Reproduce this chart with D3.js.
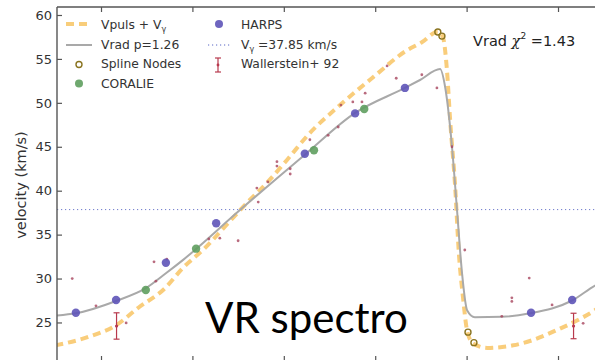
<!DOCTYPE html>
<html><head><meta charset="utf-8">
<script src="https://cdn.jsdelivr.net/npm/d3@7"></script>
<style>body{margin:0;background:#fff;} svg{display:block;font-family:"DejaVu Sans",sans-serif;}</style>
</head><body><svg id="c" width="595" height="360"></svg>
<script>
// ---- data (phase, velocity km/s) ----
const yTicks = [25, 30, 35, 40, 45, 50, 55, 60];
const xTicks = [0, 0.2, 0.4, 0.6, 0.8, 1.0];
const vGamma = 37.85;
const chi2 = 1.43;
const vradCurve = [[-0.096,25.8],[-0.055,26.05],[0.033,27.45],[0.098,28.9],[0.142,30.6],[0.179,32.1],[0.304,37.8],[0.446,44.1],[0.556,48.85],[0.665,51.7],[0.698,52.6],[0.742,53.85],[0.753,51.8],[0.768,45.0],[0.779,37.8],[0.790,30.6],[0.801,26.4],[0.818,25.6],[0.877,25.65],[0.939,26.05],[1.031,27.5],[1.081,29.2],[1.142,30.6],[1.179,32.1]];
const vpulsCurve = [[-0.1,22.4],[-0.028,23.35],[0.035,24.75],[0.081,26.65],[0.140,28.9],[0.179,31.2],[0.228,33.5],[0.271,35.9],[0.319,38.6],[0.363,40.9],[0.407,43.5],[0.454,46.4],[0.523,49.75],[0.595,52.9],[0.670,56.0],[0.702,56.9],[0.737,58.1],[0.748,57.5],[0.757,53.7],[0.764,48.0],[0.775,40.4],[0.783,32.9],[0.792,27.9],[0.801,24.1],[0.814,22.6],[0.845,22.1],[0.866,22.15],[0.902,22.4],[0.945,23.0],[0.998,24.15],[1.048,25.4],[1.081,26.4],[1.14,28.9],[1.179,31.2]];
const splineNodes = [[0.737,58.07],[0.746,57.6],[0.803,23.9],[0.816,22.7]];
const harps = [[-0.055,26.1],[0.033,27.55],[0.142,31.8],[0.252,36.3],[0.446,44.2],[0.556,48.8],[0.665,51.7],[0.941,26.1],[1.031,27.55]];
const coralie = [[0.098,28.7],[0.208,33.4],[0.466,44.6],[0.576,49.3]];
const otherPts = [[-0.063,30.0],[-0.011,26.9],[0.055,24.95],[0.116,31.9],[0.120,29.7],[0.144,32.2],[0.236,34.5],[0.260,34.6],[0.300,34.3],[0.341,40.3],[0.344,38.7],[0.365,41.0],[0.385,43.3],[0.385,42.8],[0.414,42.5],[0.414,41.9],[0.457,45.8],[0.497,46.3],[0.519,47.25],[0.525,49.75],[0.551,50.1],[0.571,50.1],[0.578,51.1],[0.626,54.2],[0.646,52.8],[0.702,53.2],[0.735,51.7],[0.768,45.0],[0.796,33.25],[0.877,25.7],[0.899,27.8],[0.899,27.4],[0.937,30.05],[0.987,27.0],[1.055,24.9]];
const wallerstein = [[0.034,24.6,1.5],[1.034,24.6,1.45]];
const legendCol1 = ["Vpuls + V", "Vrad p=1.26", "Spline Nodes", "CORALIE"];
const legendCol2 = ["HARPS", "V", "Wallerstein+ 92"];
const yLabel = "velocity (km/s)";
const bigLabel = "VR spectro";

// ---- colours ----
const cOrange = "#f7c15a", cGray = "#a9a9a9", cBlue = "#5e54b8", cGreen = "#5f9f5f",
      cRed = "#a8455e", cErr = "#b8394d", cNode = "#8a7420", cAxis = "#555", cText = "#333",
      cDot = "#5866c4";

const svg = d3.select("#c");
svg.append("rect").attr("width",595).attr("height",360).attr("fill","#fff");
const L = 57, T = 7, R = 640, B = 362;
const x = d3.scaleLinear().domain([-0.0963, 1.1794]).range([L, R]);
const y = d3.scaleLinear().domain([20.5, 60.91]).range([B, T]);

svg.append("clipPath").attr("id","clip").append("rect").attr("x",L).attr("y",T).attr("width",R-L).attr("height",B-T);
const g = svg.append("g").attr("clip-path","url(#clip)");

// V gamma dotted
g.append("line").attr("x1",L).attr("x2",R).attr("y1",y(vGamma)).attr("y2",y(vGamma))
  .attr("stroke",cDot).attr("stroke-width",1).attr("stroke-dasharray","1.2,2.8").attr("opacity",0.85);

const line = d3.line().x(d=>x(d[0])).y(d=>y(d[1])).curve(d3.curveMonotoneX);
g.append("path").attr("d",line(vpulsCurve)).attr("fill","none").attr("stroke",cOrange)
  .attr("stroke-width",4).attr("stroke-dasharray","8,5").attr("opacity",0.8);
g.append("path").attr("d",line(vradCurve)).attr("fill","none").attr("stroke",cGray).attr("stroke-width",2);

g.selectAll(".o").data(otherPts).join("circle").attr("cx",d=>x(d[0])).attr("cy",d=>y(d[1])).attr("r",1.4).attr("fill",cRed).attr("opacity",0.8);

// Wallerstein error bars
const wg = g.selectAll(".w").data(wallerstein).join("g").attr("stroke",cErr).attr("stroke-width",1.2);
wg.append("line").attr("x1",d=>x(d[0])).attr("x2",d=>x(d[0])).attr("y1",d=>y(d[1]+d[2])).attr("y2",d=>y(d[1]-d[2]));
wg.append("line").attr("x1",d=>x(d[0])-3).attr("x2",d=>x(d[0])+3).attr("y1",d=>y(d[1]+d[2])).attr("y2",d=>y(d[1]+d[2]));
wg.append("line").attr("x1",d=>x(d[0])-3).attr("x2",d=>x(d[0])+3).attr("y1",d=>y(d[1]-d[2])).attr("y2",d=>y(d[1]-d[2]));
g.selectAll(".wc").data(wallerstein).join("circle").attr("cx",d=>x(d[0])).attr("cy",d=>y(d[1])).attr("r",1.6).attr("fill",cErr);

g.selectAll(".h").data(harps).join("circle").attr("cx",d=>x(d[0])).attr("cy",d=>y(d[1])).attr("r",4.2).attr("fill",cBlue).attr("opacity",0.9);
g.selectAll(".c").data(coralie).join("circle").attr("cx",d=>x(d[0])).attr("cy",d=>y(d[1])).attr("r",4.2).attr("fill",cGreen).attr("opacity",0.9);
g.selectAll(".s").data(splineNodes).join("circle").attr("cx",d=>x(d[0])).attr("cy",d=>y(d[1])).attr("r",3).attr("fill","none").attr("stroke",cNode).attr("stroke-width",1.4);

// axes frame
svg.append("line").attr("x1",L).attr("x2",L).attr("y1",T).attr("y2",B).attr("stroke",cAxis).attr("stroke-width",1.4);
svg.append("line").attr("x1",L).attr("x2",R).attr("y1",T).attr("y2",T).attr("stroke",cAxis).attr("stroke-width",1.4);
svg.append("line").attr("x1",L).attr("x2",R).attr("y1",B).attr("y2",B).attr("stroke",cAxis).attr("stroke-width",1.4);

const yAx = svg.append("g").attr("transform",`translate(${L},0)`)
  .call(d3.axisLeft(y).tickValues(yTicks).tickSize(-5).tickPadding(5).tickFormat(d3.format("d")));
yAx.select(".domain").remove();
yAx.selectAll("line").attr("stroke",cAxis).attr("stroke-width",1.2);
yAx.selectAll("text").attr("fill",cText).attr("font-size",13).attr("font-family","DejaVu Sans");

const xTop = svg.append("g").attr("transform",`translate(0,${T})`).call(d3.axisTop(x).tickValues(xTicks).tickSize(-5).tickFormat(""));
xTop.select(".domain").remove(); xTop.selectAll("line").attr("stroke",cAxis).attr("stroke-width",1.2);
const xBot = svg.append("g").attr("transform",`translate(0,${B})`).call(d3.axisBottom(x).tickValues(xTicks).tickSize(-6).tickFormat(""));
xBot.select(".domain").remove(); xBot.selectAll("line").attr("stroke",cAxis).attr("stroke-width",1.2);

svg.append("text").attr("transform","translate(26,185) rotate(-90)").attr("text-anchor","middle")
  .attr("font-size",14.5).attr("fill",cText).text(yLabel);

// legend
const lg = svg.append("g").attr("font-size",12.3).attr("fill",cText);
const rows = [28.7, 48.5, 68.3, 88];
lg.append("line").attr("x1",66).attr("x2",92).attr("y1",24).attr("y2",24).attr("stroke",cOrange).attr("stroke-width",4).attr("stroke-dasharray","8,5").attr("opacity",0.8);
lg.append("line").attr("x1",66).attr("x2",92).attr("y1",45).attr("y2",45).attr("stroke",cGray).attr("stroke-width",2);
lg.append("circle").attr("cx",79).attr("cy",64.5).attr("r",3).attr("fill","none").attr("stroke",cNode).attr("stroke-width",1.4);
lg.append("circle").attr("cx",79).attr("cy",83.5).attr("r",4).attr("fill",cGreen).attr("opacity",0.9);
legendCol1.forEach((t,i)=>{
  const tx = lg.append("text").attr("x",101).attr("y",rows[i]).text(t);
  if(i===0) tx.append("tspan").attr("font-size",8).attr("dy",3).text("γ");
});
lg.append("circle").attr("cx",219).attr("cy",24).attr("r",4).attr("fill",cBlue).attr("opacity",0.9);
lg.append("line").attr("x1",208).attr("x2",230).attr("y1",45).attr("y2",45).attr("stroke",cDot).attr("stroke-width",1).attr("stroke-dasharray","1.2,2.8");
lg.append("line").attr("x1",218).attr("x2",218).attr("y1",58).attr("y2",72).attr("stroke",cErr).attr("stroke-width",1.2);
lg.append("line").attr("x1",215).attr("x2",221).attr("y1",58).attr("y2",58).attr("stroke",cErr).attr("stroke-width",1.2);
lg.append("line").attr("x1",215).attr("x2",221).attr("y1",72).attr("y2",72).attr("stroke",cErr).attr("stroke-width",1.2);
lg.append("circle").attr("cx",218).attr("cy",65).attr("r",1.4).attr("fill",cErr);
legendCol2.forEach((t,i)=>{
  const tx = lg.append("text").attr("x",241).attr("y",rows[i]).text(t);
  if(i===1){ tx.append("tspan").attr("font-size",8).attr("dy",3).text("γ");
             tx.append("tspan").attr("dy",-3).text(" =" + vGamma + " km/s"); }
});

// chi2 annotation
const ct = svg.append("text").attr("x",473).attr("y",46).attr("font-size",14.5).attr("fill","#222").text("Vrad ");
ct.append("tspan").attr("font-family","DejaVu Serif").attr("font-style","italic").text("χ");
ct.append("tspan").attr("font-size",9).attr("dy",-7).text("2");
ct.append("tspan").attr("dy",7).text(" =" + chi2);

svg.append("text").attr("x",205).attr("y",333).attr("font-family","Lato, 'Open Sans', sans-serif")
  .attr("font-size",42).attr("fill","#000").text(bigLabel);
</script></body></html>
